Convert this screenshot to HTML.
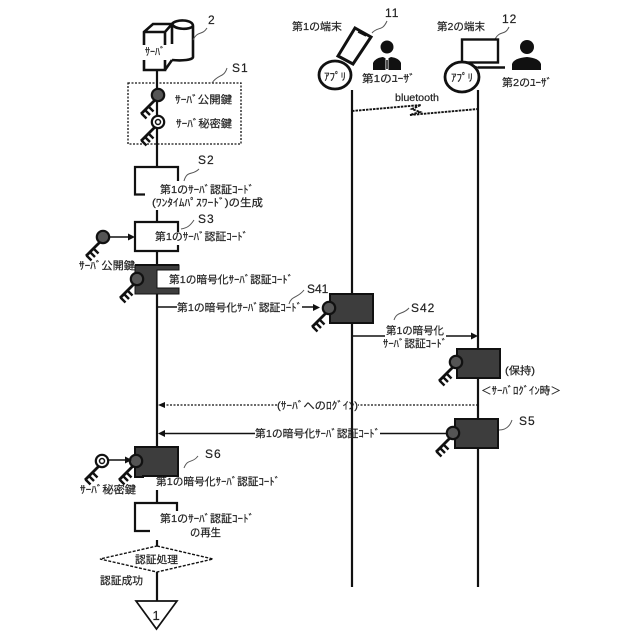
<!DOCTYPE html>
<html lang="ja"><head><meta charset="utf-8"><style>
html,body{margin:0;padding:0;background:#fff}
svg{display:block}
text{font-family:"Liberation Sans","Noto Sans CJK JP",sans-serif;font-size:10.5px;fill:#222;stroke:#222;stroke-width:.2px}
.n{font-size:12px;letter-spacing:1px}
.l{stroke:#111;stroke-width:2.2;fill:none}
.t{stroke:#111;stroke-width:1.5;fill:none}
.s{stroke:#555;stroke-width:1;fill:none}
.d{fill:#3d3d3d;stroke:#111;stroke-width:2}
</style></head><body>
<svg width="640" height="640" viewBox="0 0 640 640" xmlns="http://www.w3.org/2000/svg">
<defs>
<g id="shaft"><path d="M-3 5L-17 19" stroke="#111" stroke-width="2.800" fill="none"/><path d="M-16.500 18.500L-11.500 23.500M-13 15L-8 20M-9.500 11.500L-4.500 16.500" stroke="#111" stroke-width="2.400" fill="none"/></g>
<g id="kd"><use href="#shaft"/><circle r="6.200" fill="#555" stroke="#111" stroke-width="2.200"/></g>
<g id="ks"><use href="#shaft"/><circle r="6.200" fill="#fff" stroke="#111" stroke-width="2.200"/><circle r="2.500" fill="#fff" stroke="#111" stroke-width="1.500"/></g>
</defs>

<!-- lifelines -->
<path class="l" d="M157 70V167M157 210V222M157 251V265M157 294V447M157 490V503M157 540V546M157 572V601"/>
<path class="l" d="M352 90V587M478 90V587"/>

<!-- server -->
<g class="l" style="stroke-width:2.600">
<path d="M144 45V32L153 24H172L165 32H144M165 32V45M172 24V44M165 60V70H144V60M165 70L172 60"/>
<path d="M172 24C175 19 193 19 193 26V57C193 60 182 61 172 60M172 24C175 30 190 30 193 26" />
</g>
<text x="145" y="55" textLength="20" lengthAdjust="spacingAndGlyphs">ｻｰﾊﾞ</text>
<text x="208" y="24" class="n">2</text>
<path class="s" d="M193 40C198 30 202 36 207 28"/>

<!-- S1 -->
<rect x="128" y="83" width="113" height="61" fill="none" stroke="#111" stroke-width="1.300" stroke-dasharray="2 1.500"/>
<text x="232" y="72" class="n">S1</text>
<path class="s" d="M212 83C218 74 224 78 227 68"/>
<use href="#kd" x="158" y="95"/>
<use href="#ks" x="158" y="122"/>
<text x="175" y="103" textLength="57" lengthAdjust="spacingAndGlyphs">ｻｰﾊﾞ公開鍵</text>
<text x="176" y="127" textLength="56" lengthAdjust="spacingAndGlyphs">ｻｰﾊﾞ秘密鍵</text>

<!-- terminal 1 -->
<text x="292" y="30" textLength="50" lengthAdjust="spacingAndGlyphs">第1の端末</text>
<text x="385" y="17" class="n">11</text>
<path class="s" d="M372 33C378 26 382 32 387 21"/>
<path d="M355 28L371 37L353 64L338 56Z" fill="#fff" stroke="#111" stroke-width="3"/>
<path d="M358 32L366 36" stroke="#111" stroke-width="1.500"/>
<circle cx="387" cy="47" r="6.500" fill="#111"/>
<path d="M373 70V63Q375 58 383 57L387 59L391 57Q399 58 401 63V70Z" fill="#111"/>
<path d="M385.500 58H388.500V70H385.500Z" fill="#fff"/><path d="M387 60V69" stroke="#111" stroke-width="1.500"/>
<ellipse cx="335" cy="75" rx="16" ry="14" fill="#fff" stroke="#111" stroke-width="2.800"/>
<text x="324" y="80" textLength="22" lengthAdjust="spacingAndGlyphs">ｱﾌﾟﾘ</text>
<text x="362" y="82" textLength="53" lengthAdjust="spacingAndGlyphs">第1のﾕｰｻﾞ</text>

<!-- terminal 2 -->
<text x="437" y="30" textLength="48" lengthAdjust="spacingAndGlyphs">第2の端末</text>
<text x="502" y="23" class="n">12</text>
<path class="s" d="M495 39C500 30 505 36 509 27"/>
<rect x="462" y="39.500" width="36" height="23" fill="#fff" stroke="#111" stroke-width="2.400"/>
<path d="M478 67.500H505" stroke="#111" stroke-width="2.600"/><path d="M462 62.500L478 67.500" stroke="#111" stroke-width="1.500"/>
<circle cx="527" cy="47" r="7" fill="#111"/>
<path d="M512 70V64Q514 58 527 57Q539 58 541 64V70Z" fill="#111"/>
<ellipse cx="462" cy="77" rx="17" ry="15" fill="#fff" stroke="#111" stroke-width="2.800"/>
<text x="451" y="81" textLength="22" lengthAdjust="spacingAndGlyphs">ｱﾌﾟﾘ</text>
<text x="502" y="86" textLength="50" lengthAdjust="spacingAndGlyphs">第2のﾕｰｻﾞ</text>

<!-- bluetooth -->
<text x="395" y="101" textLength="44" lengthAdjust="spacingAndGlyphs">bluetooth</text>
<path d="M352 111L421 105L412 109L420 112L410 115L478 109" fill="none" stroke="#111" stroke-width="1.900" stroke-dasharray="2.500 1"/>

<!-- S2 -->
<path class="l" d="M145 194.500H135V167H178V181"/>
<text x="198" y="164" class="n">S2</text>
<path class="s" d="M184 181C187 170 192 176 199 169"/>
<text x="160" y="193" textLength="94" lengthAdjust="spacingAndGlyphs">第1のｻｰﾊﾞ認証ｺｰﾄﾞ</text>
<text x="152" y="206" textLength="111" lengthAdjust="spacingAndGlyphs">(ﾜﾝﾀｲﾑﾊﾟｽﾜｰﾄﾞ)の生成</text>

<!-- S3 -->
<path class="l" d="M178 232V222H135V251H178V245"/>
<text x="198" y="223" class="n">S3</text>
<path class="s" d="M181 229C187 228 190 226 194 220"/>
<text x="155" y="240" textLength="93" lengthAdjust="spacingAndGlyphs">第1のｻｰﾊﾞ認証ｺｰﾄﾞ</text>
<use href="#kd" x="103" y="237"/>
<path d="M109 237H128" class="t"/><path d="M135 237L128 233.500V240.500Z" fill="#111"/>
<text x="79" y="269" textLength="56" lengthAdjust="spacingAndGlyphs">ｻｰﾊﾞ公開鍵</text>

<!-- encrypted 1 -->
<path d="M135 265H179V270H157V288H179V294H135Z" fill="#3d3d3d" stroke="#111" stroke-width="1"/>
<path d="M135 265H179" stroke="#111" stroke-width="2"/>
<use href="#kd" x="137" y="279"/>
<text x="169" y="283" textLength="124" lengthAdjust="spacingAndGlyphs">第1の暗号化ｻｰﾊﾞ認証ｺｰﾄﾞ</text>

<!-- S41 -->
<path class="t" d="M157 307H177M302 307H314"/><path d="M320 307.500L313 304V311Z" fill="#111"/>
<text x="177" y="311" textLength="125" lengthAdjust="spacingAndGlyphs">第1の暗号化ｻｰﾊﾞ認証ｺｰﾄﾞ</text>
<text x="307" y="293" class="n" style="letter-spacing:0">S41</text>
<path class="s" d="M289 304C291 296 298 298 304 290"/>
<rect x="330" y="294" width="43" height="29" class="d"/>
<use href="#kd" x="329" y="308"/>

<!-- S42 -->
<path class="t" d="M352 336H385M446 336H472"/><path d="M478 336L471 332.500V339.500Z" fill="#111"/>
<text x="386" y="334" textLength="58" lengthAdjust="spacingAndGlyphs">第1の暗号化</text>
<text x="383" y="347" textLength="64" lengthAdjust="spacingAndGlyphs">ｻｰﾊﾞ認証ｺｰﾄﾞ</text>
<text x="411" y="312" class="n">S42</text>
<path class="s" d="M394 320C397 311 403 315 409 308"/>
<rect x="457" y="349" width="43" height="29" class="d"/>
<use href="#kd" x="456" y="362"/>
<text x="505" y="374" textLength="30" lengthAdjust="spacingAndGlyphs">(保持)</text>
<text x="481" y="394" textLength="80" lengthAdjust="spacingAndGlyphs">＜ｻｰﾊﾞﾛｸﾞｲﾝ時＞</text>

<!-- login -->
<path d="M478 405H358M277 405H164" fill="none" stroke="#111" stroke-width="1.200" stroke-dasharray="2 1.500"/>
<path d="M158 405L165 402V408Z" fill="#111"/>
<text x="277" y="409" textLength="81" lengthAdjust="spacingAndGlyphs">(ｻｰﾊﾞへのﾛｸﾞｲﾝ)</text>

<!-- S5 -->
<path class="t" d="M450 433.500H380M255 433.500H164"/><path d="M158 433.500L165 430V437Z" fill="#111"/>
<text x="255" y="437" textLength="125" lengthAdjust="spacingAndGlyphs">第1の暗号化ｻｰﾊﾞ認証ｺｰﾄﾞ</text>
<rect x="455" y="419" width="43" height="29" class="d"/>
<use href="#kd" x="453" y="433"/>
<text x="519" y="425" class="n">S5</text>
<path class="s" d="M499 430C506 430 510 426 512 420"/>

<!-- S6 -->
<path d="M135 447H178V476H143V477H135Z" class="d"/>
<use href="#kd" x="136" y="461"/>
<use href="#ks" x="102" y="461"/>
<path class="t" d="M108 460H126"/><path d="M132 460L125 456.500V463.500Z" fill="#111"/>
<text x="80" y="493" textLength="56" lengthAdjust="spacingAndGlyphs">ｻｰﾊﾞ秘密鍵</text>
<text x="205" y="458" class="n">S6</text>
<path class="s" d="M184 468C188 458 192 464 198 456"/>
<text x="156" y="485" textLength="124" lengthAdjust="spacingAndGlyphs">第1の暗号化ｻｰﾊﾞ認証ｺｰﾄﾞ</text>

<!-- restored -->
<path class="l" d="M150 531H135V503H177V511"/>
<text x="160" y="522" textLength="94" lengthAdjust="spacingAndGlyphs">第1のｻｰﾊﾞ認証ｺｰﾄﾞ</text>
<text x="190" y="536" textLength="31" lengthAdjust="spacingAndGlyphs">の再生</text>

<!-- decision -->
<path d="M157 546L213 559L157 572L100 559Z" fill="#fff" stroke="#111" stroke-width="1.400" stroke-dasharray="3 1.500"/>
<text x="135" y="563" textLength="43" lengthAdjust="spacingAndGlyphs">認証処理</text>
<text x="100" y="584" textLength="43" lengthAdjust="spacingAndGlyphs">認証成功</text>
<path d="M136 601H177L156.500 629Z" fill="#fff" stroke="#111" stroke-width="1.700"/>
<text x="152.500" y="620" style="font-size:13px">1</text>
</svg>
</body></html>
